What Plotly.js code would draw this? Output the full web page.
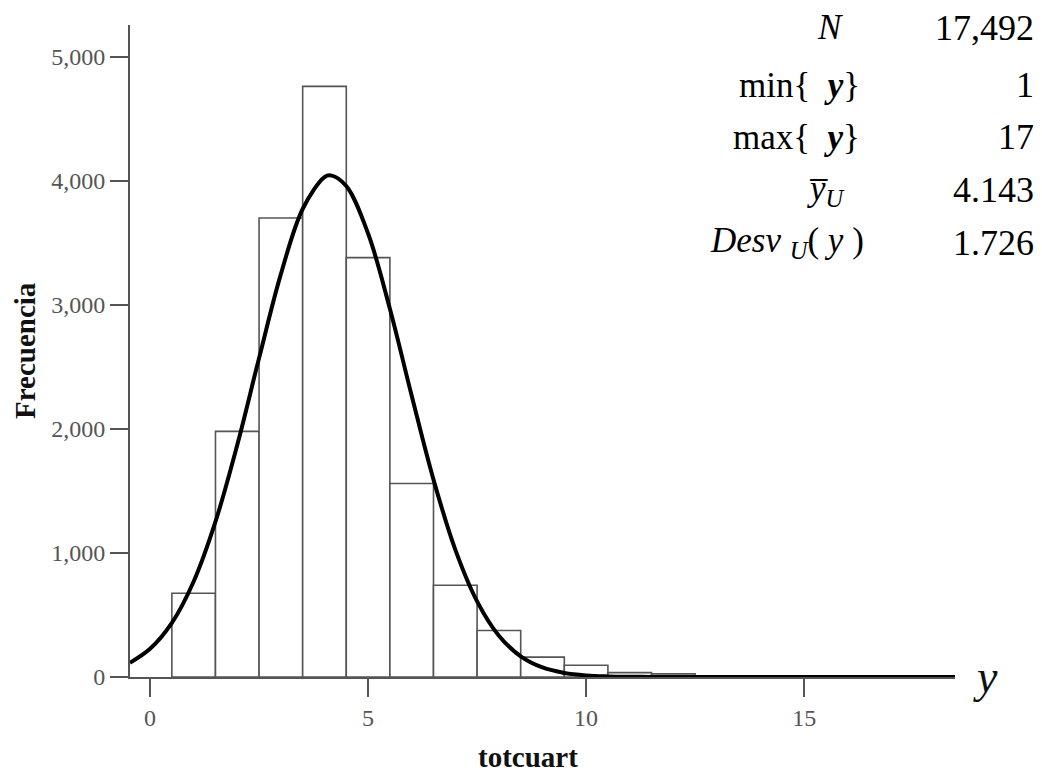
<!DOCTYPE html>
<html>
<head>
<meta charset="utf-8">
<script src="https://cdn.plot.ly/plotly-3.0.1.min.js"></script>
<style>html,body{margin:0;padding:0;background:#fff;}#chart{width:1042px;height:776px;}</style>
</head>
<body>
<div id="chart"></div>
<script>
// Histogram bins (centers) and frequencies
const binCenters = [1, 2, 3, 4, 5, 6, 7, 8, 9, 10, 11, 12, 13, 14, 15, 16, 17];
const frequencies = [675, 1980, 3700, 4760, 3380, 1560, 740, 375, 160, 95, 35, 25, 10, 5, 3, 2, 1];

// Fitted normal curve
const curveX = [-0.46, 0, 0.5, 1, 1.5, 2, 2.5, 3, 3.5, 4, 4.143, 4.5, 5, 5.5, 6, 6.5, 7, 7.5, 8, 8.5, 9, 9.5, 10, 10.5, 11, 11.5, 12, 13, 14, 15, 16, 17, 18, 18.46];
const curveY = [115, 227, 436, 770, 1252, 1871, 2570, 3247, 3772, 4029, 4043, 3957, 3574, 2968, 2267, 1591, 1027, 610, 333, 167, 77, 33, 13, 5, 2, 1, 0, 0, 0, 0, 0, 0, 0, 0];

// Axis ticks
const yTicks = [0, 1000, 2000, 3000, 4000, 5000];
const xTicks = [0, 5, 10, 15];

// Summary statistics table
const statLabels = ['<i>N</i>', 'min{  <i><b>y</b></i>}', 'max{  <i><b>y</b></i>}', '<i>y\u0305</i><sub><i>U</i></sub>', '<i>Desv</i> <sub><i>U</i></sub>( <i>y</i> )'];
const statValues = ['17,492', '1', '17', '4.143', '1.726'];

const serif = 'Liberation Serif';
const gray = '#555555';

const bars = {
  type: 'bar',
  x: binCenters,
  y: frequencies,
  width: 1,
  marker: {color: '#ffffff', line: {color: gray, width: 1.6}},
  hoverinfo: 'x+y'
};
const curve = {
  type: 'scatter',
  mode: 'lines',
  x: curveX,
  y: curveY,
  line: {color: '#000000', width: 4, shape: 'spline'},
  hoverinfo: 'skip'
};

// plot area: x 130..955, y 25..677
const L = 130, R = 955, T = 25, B = 677;
const px = v => (v - L) / (R - L);
const py = v => (B - v) / (B - T);

const labelRight = [845, 862, 862, 848, 866];
const rowY = [28, 85, 137, 190, 243];
const annotations = [];
statLabels.forEach((t, i) => {
  annotations.push({xref: 'paper', yref: 'paper', x: px(labelRight[i]), y: py(rowY[i]),
    xanchor: 'right', yanchor: 'middle', showarrow: false, text: t,
    font: {family: serif, size: 35, color: '#000'}});
  annotations.push({xref: 'paper', yref: 'paper', x: px(1036), y: py(rowY[i]),
    xanchor: 'right', yanchor: 'middle', showarrow: false, text: statValues[i],
    font: {family: serif, size: 36, color: '#000'}});
});
annotations.push({xref: 'paper', yref: 'paper', x: px(25), y: py(351), textangle: -90,
  xanchor: 'center', yanchor: 'middle', showarrow: false, text: '<b>Frecuencia</b>',
  font: {family: serif, size: 29, color: '#111'}});
annotations.push({xref: 'paper', yref: 'paper', x: px(528), y: py(757),
  xanchor: 'center', yanchor: 'middle', showarrow: false, text: '<b>totcuart</b>',
  font: {family: serif, size: 29, color: '#111'}});
annotations.push({xref: 'paper', yref: 'paper', x: px(985), y: py(676),
  xanchor: 'center', yanchor: 'middle', showarrow: false, text: '<i>y</i>',
  font: {family: serif, size: 46, color: '#111'}});

const layout = {
  width: 1042, height: 776,
  margin: {l: L, r: 1042 - R, t: T, b: 776 - B, pad: 0},
  paper_bgcolor: '#ffffff', plot_bgcolor: '#ffffff',
  showlegend: false,
  bargap: 0,
  xaxis: {
    range: [-0.46, 18.46], tickvals: xTicks, ticktext: xTicks.map(String),
    ticks: 'outside', ticklen: 18, tickwidth: 2, tickcolor: gray,
    showline: true, linecolor: gray, linewidth: 2, showgrid: false, zeroline: false,
    tickfont: {family: serif, size: 24, color: gray}
  },
  yaxis: {
    range: [0, 5255], tickvals: yTicks, ticktext: yTicks.map(v => v.toLocaleString('en-US')),
    ticks: 'outside', ticklen: 18, tickwidth: 2, tickcolor: gray,
    showline: true, linecolor: gray, linewidth: 2, showgrid: false, zeroline: false,
    tickfont: {family: serif, size: 24, color: gray}
  },
  annotations: annotations
};

Plotly.newPlot('chart', [bars, curve], layout, {displayModeBar: false, staticPlot: true});
</script>
</body>
</html>
